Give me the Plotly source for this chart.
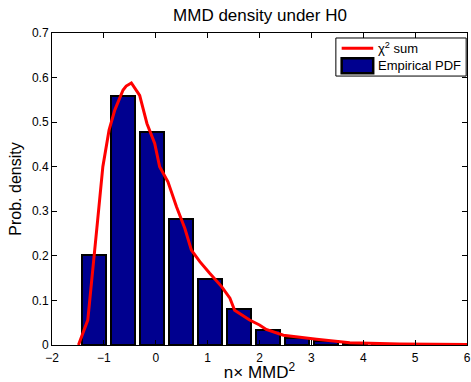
import plotly.graph_objects as go

# Histogram (empirical PDF)
bar_centers = [-1.195, -0.635, -0.075, 0.485, 1.045, 1.605, 2.165, 2.725, 3.285, 3.845, 4.405, 4.965, 5.525]
bar_heights = [0.201, 0.559, 0.479, 0.283, 0.148, 0.080, 0.034, 0.016, 0.009, 0.005, 0.002, 0.001, 0.001]

# chi^2 sum curve
curve_x = [-1.49, -1.31, -1.12, -1.02, -0.90, -0.79, -0.63, -0.57, -0.47, -0.31, -0.17, -0.02,
           0.075, 0.235, 0.40, 0.56, 0.687, 0.85, 1.04, 1.27, 1.43, 1.52, 1.81, 2.0, 2.13,
           2.46, 3.1, 3.74, 4.7, 6.0]
curve_y = [0.0, 0.056, 0.28, 0.40, 0.482, 0.527, 0.572, 0.581, 0.588, 0.56, 0.497, 0.452,
           0.40, 0.366, 0.31, 0.262, 0.213, 0.187, 0.161, 0.131, 0.105, 0.078, 0.056, 0.045, 0.035,
           0.022, 0.013, 0.005, 0.002, 0.001]

x_ticks = [-2, -1, 0, 1, 2, 3, 4, 5, 6]
y_ticks = [0, 0.1, 0.2, 0.3, 0.4, 0.5, 0.6, 0.7]
y_tick_labels = ["0", "0.1", "0.2", "0.3", "0.4", "0.5", "0.6", "0.7"]

series_names = ["χ<sup>2</sup> sum", "Empirical PDF"]

FONT = "Liberation Sans, Arial, Helvetica, sans-serif"
RED = "#ff0000"
BLUE = "#00008f"

fig = go.Figure()
fig.add_trace(go.Scatter(
    x=curve_x, y=curve_y, mode="lines", name=series_names[0],
    line=dict(color=RED, width=3), showlegend=False,
))
fig.add_trace(go.Bar(
    x=bar_centers, y=bar_heights, name=series_names[1], width=0.46,
    marker=dict(color=BLUE, line=dict(color="black", width=2)), showlegend=False,
))

axis_common = dict(
    showline=True, linecolor="black", linewidth=1, mirror="ticks",
    ticks="inside", ticklen=5, tickcolor="black", showgrid=False, zeroline=False,
    tickfont=dict(family=FONT, size=12, color="black"),
)
fig.update_xaxes(range=[-2, 6], tickvals=x_ticks, ticktext=[str(v).replace("-", "−") for v in x_ticks],
                 ticklabelstandoff=2,
                 title=dict(text="n× MMD<sup>2</sup>", font=dict(family=FONT, size=17, color="black"), standoff=5),
                 **axis_common)
fig.update_yaxes(range=[0, 0.7], tickvals=y_ticks, ticktext=y_tick_labels,
                 title=dict(text="Prob. density", font=dict(family=FONT, size=16, color="black"), standoff=6),
                 **axis_common)

# Manual legend (MATLAB style), in paper coordinates
shapes = [
    dict(type="rect", xref="paper", yref="paper", x0=0.684, x1=0.998, y0=0.862, y1=0.984,
         line=dict(color="black", width=1), fillcolor="white", layer="above"),
    dict(type="line", xref="paper", yref="paper", x0=0.698, x1=0.774, y0=0.951, y1=0.951,
         line=dict(color=RED, width=3), layer="above"),
    dict(type="rect", xref="paper", yref="paper", x0=0.698, x1=0.774, y0=0.871, y1=0.919,
         line=dict(color="black", width=2.5), fillcolor=BLUE, layer="above"),
]
annotations = [
    dict(text=series_names[0], xref="paper", yref="paper", x=0.781, y=0.953, xanchor="left",
         yanchor="middle", showarrow=False, font=dict(family=FONT, size=13, color="black")),
    dict(text=series_names[1], xref="paper", yref="paper", x=0.781, y=0.895, xanchor="left",
         yanchor="middle", showarrow=False, font=dict(family=FONT, size=13, color="black")),
]

fig.update_layout(
    width=471, height=382,
    margin=dict(l=52, r=4, t=33, b=37, autoexpand=False),
    plot_bgcolor="white", paper_bgcolor="white",
    title=dict(text="MMD density under H0", x=0.552, xanchor="center", y=0.975, yanchor="top",
               font=dict(family=FONT, size=17, color="black")),
    showlegend=False,
    shapes=shapes,
    annotations=annotations,
    bargap=0,
)

fig.write_html("out.html", config={"displayModeBar": False},
               post_script="document.body.style.margin='0px';document.body.style.overflow='hidden';")
